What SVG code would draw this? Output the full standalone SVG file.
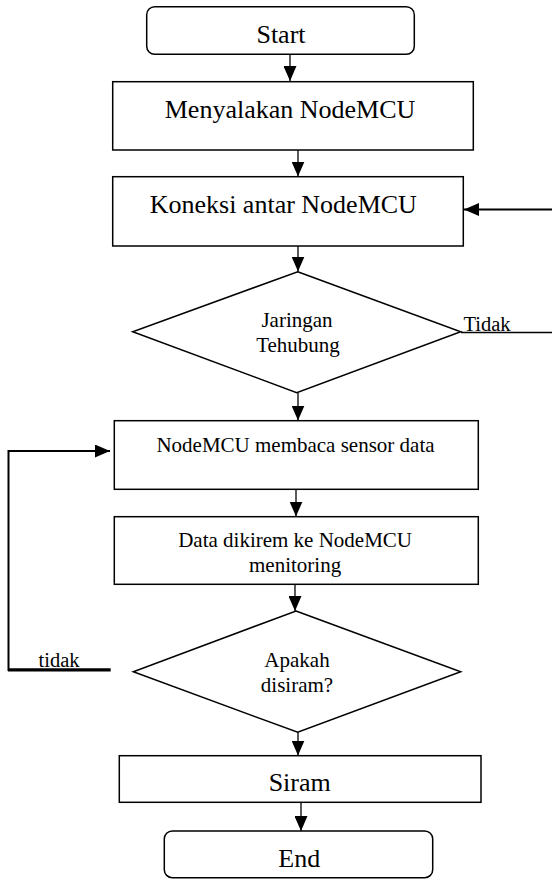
<svg xmlns="http://www.w3.org/2000/svg" width="552" height="879" viewBox="0 0 552 879">
<style>
.shape{fill:#fff;stroke:#000;stroke-width:1.5}
.big{font-family:"Liberation Serif","Times New Roman",serif;font-size:26px;fill:#000;text-anchor:middle}
.small{font-family:"Liberation Serif","Times New Roman",serif;font-size:21px;fill:#000;text-anchor:middle}
.lbl{font-family:"Liberation Serif","Times New Roman",serif;font-size:20.5px;fill:#000}
.conn{fill:none;stroke:#000;stroke-width:1.3}
</style>
<defs>
<marker id="ah" markerUnits="userSpaceOnUse" markerWidth="15" markerHeight="13" refX="15" refY="6.5" orient="auto">
<path d="M0,0 L15,6.5 L0,13 z" fill="#000"/>
</marker>
</defs>
<rect width="552" height="879" fill="#fff"/>
<g id="connectors">
<line class="conn" x1="290" y1="54.3" x2="290" y2="81" marker-end="url(#ah)"/>
<line class="conn" x1="298" y1="150" x2="298" y2="176.5" marker-end="url(#ah)"/>
<line class="conn" style="stroke-width:2.2" x1="552" y1="209.5" x2="464" y2="209.5" marker-end="url(#ah)"/>
<line class="conn" x1="298" y1="246" x2="298" y2="271.5" marker-end="url(#ah)"/>
<line class="conn" x1="461" y1="332.5" x2="552" y2="332.5"/>
<line class="conn" x1="298" y1="392.7" x2="298" y2="420.5" marker-end="url(#ah)"/>
<line class="conn" x1="296" y1="489.3" x2="296" y2="516.5" marker-end="url(#ah)"/>
<line class="conn" x1="295" y1="584.3" x2="295" y2="611" marker-end="url(#ah)"/>
<polyline class="conn" style="stroke-width:2" points="8.5,671 8.5,451 110,451" marker-end="url(#ah)"/>
<line class="conn" style="stroke-width:3.2" x1="8" y1="669.8" x2="110.7" y2="669.8"/>
<line class="conn" x1="298" y1="732.3" x2="298" y2="755.5" marker-end="url(#ah)"/>
<line class="conn" x1="301" y1="802.3" x2="301" y2="831" marker-end="url(#ah)"/>
<text class="lbl" x="463.5" y="330.5">Tidak</text>
<text class="lbl" x="38.5" y="667">tidak</text>
</g>
<g id="start">
<rect class="shape" x="146.7" y="6.7" width="267.6" height="47.6" rx="8"/>
<text class="big" x="281" y="43">Start</text>
</g>
<g id="menyalakan">
<rect class="shape" x="112.7" y="81.7" width="360.6" height="68.3"/>
<text class="big" x="290" y="118">Menyalakan NodeMCU</text>
</g>
<g id="koneksi">
<rect class="shape" x="112.7" y="176.7" width="350.6" height="69.3"/>
<text class="big" x="283.3" y="213.3">Koneksi antar NodeMCU</text>
</g>
<g id="jaringan">
<polygon class="shape" points="297.7,271.7 460.7,331.7 296.7,392.7 132.7,331.7"/>
<text class="small" x="297" y="326.7">Jaringan</text>
<text class="small" x="298" y="351.7">Tehubung</text>
</g>
<g id="membaca">
<rect class="shape" x="114.3" y="420.7" width="364" height="68.6"/>
<text class="small" x="295.5" y="451.7">NodeMCU membaca sensor data</text>
</g>
<g id="dikirem">
<rect class="shape" x="114.3" y="516.7" width="364" height="67.6"/>
<text class="small" x="295.1" y="546.5">Data dikirem ke NodeMCU</text>
<text class="small" x="295.1" y="571.5">menitoring</text>
</g>
<g id="apakah">
<polygon class="shape" points="296,611 460.7,671.7 297.7,732.3 133.3,671.7"/>
<text class="small" x="297" y="666.7">Apakah</text>
<text class="small" x="297" y="691.7">disiram?</text>
</g>
<g id="siram">
<rect class="shape" x="119.3" y="755.7" width="361.7" height="46.6"/>
<text class="big" x="299.7" y="790.7">Siram</text>
</g>
<g id="end">
<rect class="shape" x="164.3" y="831" width="268.4" height="46.7" rx="8"/>
<text class="big" x="299.2" y="866.7">End</text>
</g>
</svg>
